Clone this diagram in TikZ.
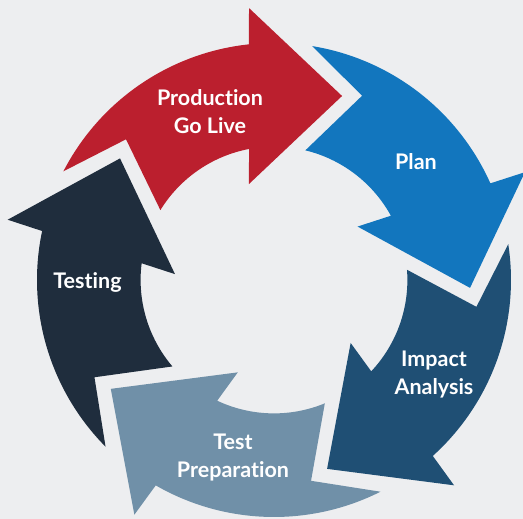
\documentclass[tikz,border=0pt]{standalone}
\usepackage{fontspec}
\setmainfont{Lato}[Ligatures=NoCommon]
\definecolor{bgc}{RGB}{237,238,240}
\definecolor{cred}{RGB}{187,31,46}
\definecolor{cblue}{RGB}{18,118,190}
\definecolor{cimpact}{RGB}{31,79,116}
\definecolor{cprep}{RGB}{112,144,168}
\definecolor{ctest}{RGB}{31,45,61}
\tikzset{
  lbl/.style={text=white, font=\bfseries\fontsize{21.5}{28}\selectfont, align=center, inner sep=0pt},
}
\newcommand{\cyclearrow}[2]{%
  \fill[#2, rotate=#1] (152.7:237) arc[start angle=152.7, end angle=96.07, radius=237]
    -- (95.25:273.1) -- (69.7:196.2) -- (104.6:99.2) -- (100.8:133.4)
    arc[start angle=100.8, end angle=148.4, radius=133.4]
    -- (136.45:204.2) -- cycle;}
\begin{document}
\begin{tikzpicture}[x=1pt,y=1pt]
\fill[bgc] (-274,-239) rectangle (249,280);
\useasboundingbox (-274,-239) rectangle (249,280);
\cyclearrow{0}{cred}
\cyclearrow{-72}{cblue}
\cyclearrow{-144}{cimpact}
\cyclearrow{-216}{cprep}
\cyclearrow{-288}{ctest}
\node[lbl] (golive) at (-64,168.5) {Production\\Go Live};
\node[lbl] (plan) at (142,118) {Plan};
\node[lbl] (impact) at (160,-94.5) {Impact\\Analysis};
\node[lbl] (prep) at (-41,-177.5) {Test\\Preparation};
\node[lbl] (testing) at (-186.5,-2) {Testing};
\end{tikzpicture}
\end{document}
